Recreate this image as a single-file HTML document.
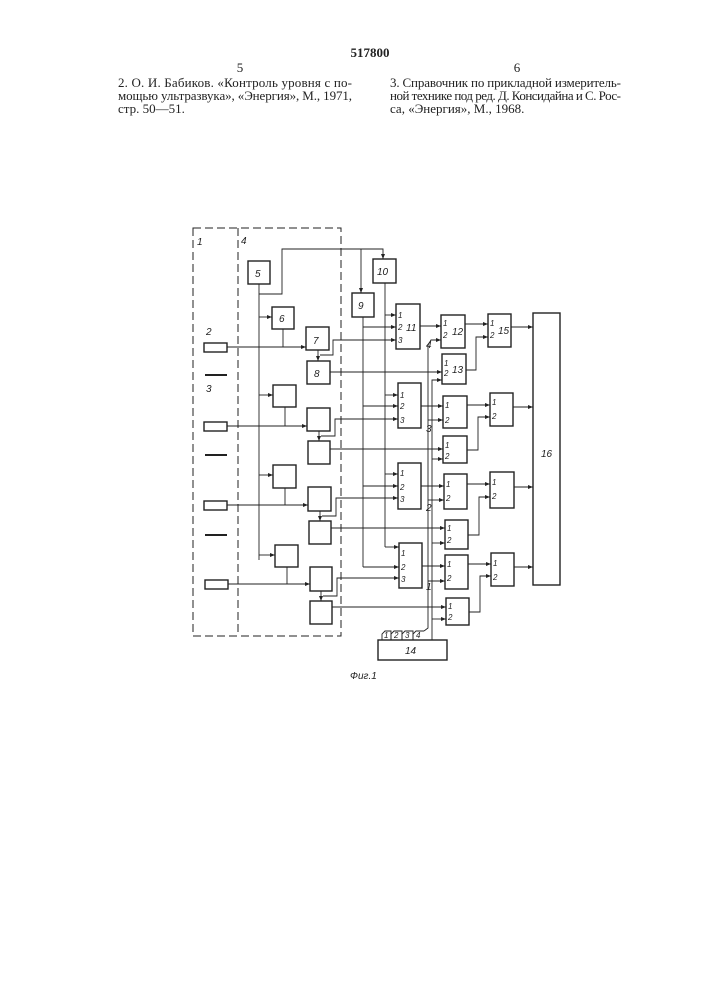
<!DOCTYPE html>
<html><head><meta charset="utf-8"><style>
html,body{margin:0;padding:0;background:#fff;}
svg{display:block}
.t{font-family:"Liberation Serif",serif;font-size:13px;fill:#222}
.d{font-family:"Liberation Sans",sans-serif;font-size:10px;font-style:italic;fill:#222}
.s{font-family:"Liberation Sans",sans-serif;font-size:8px;font-style:italic;fill:#222}
</style></head><body>
<svg width="707" height="1000" viewBox="0 0 707 1000" xmlns="http://www.w3.org/2000/svg">
<defs><marker id="a" markerWidth="6" markerHeight="6" refX="5" refY="3" orient="auto" markerUnits="userSpaceOnUse"><path d="M0,1 L5,3 L0,5 Z" fill="#222"/></marker></defs>
<text class="t" x="370" y="57" text-anchor="middle" font-weight="bold">517800</text>
<text class="t" x="240" y="72" text-anchor="middle">5</text>
<text class="t" x="517" y="72" text-anchor="middle">6</text>
<text class="t" x="118" y="87" textLength="234">2. О. И. Бабиков. «Контроль уровня с по-</text>
<text class="t" x="118" y="100" textLength="234">мощью ультразвука», «Энергия», М., 1971,</text>
<text class="t" x="118" y="113">стр. 50—51.</text>
<text class="t" x="390" y="87" textLength="231">3. Справочник по прикладной измеритель-</text>
<text class="t" x="390" y="100" textLength="231">ной технике под ред. Д. Консидайна и С. Рос-</text>
<text class="t" x="390" y="113">са, «Энергия», М., 1968.</text>

<g fill="none" stroke="#222" stroke-width="1">
<path d="M193,228 H341 V636 H193 Z" stroke-dasharray="8,4"/>
<path d="M238,228 V636" stroke-dasharray="8,4"/>
</g>
<text class="d" x="197" y="245">1</text>
<text class="d" x="241" y="244">4</text>
<text class="d" x="206" y="335">2</text>
<text class="d" x="206" y="392">3</text>

<g fill="none" stroke="#222" stroke-width="1.4">
<rect x="204" y="343" width="23" height="9"/>
<rect x="204" y="422" width="23" height="9"/>
<rect x="204" y="501" width="23" height="9"/>
<rect x="205" y="580" width="23" height="9"/>
<path d="M205,375 H227 M205,455 H227 M205,535 H227" stroke-width="2"/>
<rect x="248" y="261" width="22" height="23"/>
<rect x="352" y="293" width="22" height="24"/>
<rect x="373" y="259" width="23" height="24"/>
<rect x="272" y="307" width="22" height="22"/>
<rect x="306" y="327" width="23" height="23"/>
<rect x="307" y="361" width="23" height="23"/>
<rect x="396" y="304" width="24" height="45"/>
<rect x="441" y="315" width="24" height="33"/>
<rect x="488" y="314" width="23" height="33"/>
<rect x="442" y="354" width="24" height="30"/>

<rect x="273" y="385" width="23" height="22"/>
<rect x="307" y="408" width="23" height="23"/>
<rect x="308" y="441" width="22" height="23"/>
<rect x="398" y="383" width="23" height="45"/>
<rect x="443" y="396" width="24" height="32"/>
<rect x="490" y="393" width="23" height="33"/>
<rect x="443" y="436" width="24" height="27"/>

<rect x="273" y="465" width="23" height="23"/>
<rect x="308" y="487" width="23" height="24"/>
<rect x="309" y="521" width="22" height="23"/>
<rect x="398" y="463" width="23" height="46"/>
<rect x="444" y="474" width="23" height="35"/>
<rect x="490" y="472" width="24" height="36"/>
<rect x="445" y="520" width="23" height="29"/>

<rect x="275" y="545" width="23" height="22"/>
<rect x="310" y="567" width="22" height="24"/>
<rect x="310" y="601" width="22" height="23"/>
<rect x="399" y="543" width="23" height="45"/>
<rect x="445" y="555" width="23" height="34"/>
<rect x="491" y="553" width="23" height="33"/>
<rect x="446" y="598" width="23" height="27"/>

<rect x="533" y="313" width="27" height="272"/>
<rect x="378" y="640" width="69" height="20"/>
</g>

<g fill="none" stroke="#222" stroke-width="0.9">
<path d="M259,284 V560"/>
<path d="M259,294 H282 V249 H383 V259" marker-end="url(#a)"/>
<path d="M361,249 V293" marker-end="url(#a)"/>
<path d="M259,317 H272" marker-end="url(#a)"/>
<path d="M259,395 H273" marker-end="url(#a)"/>
<path d="M259,475 H273" marker-end="url(#a)"/>
<path d="M259,555 H275" marker-end="url(#a)"/>
<path d="M227,347 H306" marker-end="url(#a)"/>
<path d="M227,426 H307" marker-end="url(#a)"/>
<path d="M227,505 H308" marker-end="url(#a)"/>
<path d="M228,584 H310" marker-end="url(#a)"/>
<path d="M283,329 V347 M285,407 V426 M285,488 V505 M287,567 V584"/>
<path d="M318,350 V361" marker-end="url(#a)"/>
<path d="M319,431 V441" marker-end="url(#a)"/>
<path d="M320,511 V521" marker-end="url(#a)"/>
<path d="M321,591 V601" marker-end="url(#a)"/>
<path d="M320,355 H333 V340 H396" marker-end="url(#a)"/>
<path d="M321,436 H335 V419 H398" marker-end="url(#a)"/>
<path d="M322,516 H336 V498 H398" marker-end="url(#a)"/>
<path d="M323,596 H337 V578 H399" marker-end="url(#a)"/>
<path d="M330,372 H442" marker-end="url(#a)"/>
<path d="M330,449 H443" marker-end="url(#a)"/>
<path d="M331,528 H445" marker-end="url(#a)"/>
<path d="M332,607 H446" marker-end="url(#a)"/>
<path d="M363,317 V567"/>
<path d="M363,327 H396" marker-end="url(#a)"/>
<path d="M363,406 H398" marker-end="url(#a)"/>
<path d="M363,486 H398" marker-end="url(#a)"/>
<path d="M363,567 H399" marker-end="url(#a)"/>
<path d="M385,283 V547"/>
<path d="M385,315 H396" marker-end="url(#a)"/>
<path d="M385,395 H398" marker-end="url(#a)"/>
<path d="M385,474 H398" marker-end="url(#a)"/>
<path d="M385,547 H399" marker-end="url(#a)"/>
<path d="M420,326 H441" marker-end="url(#a)"/>
<path d="M421,406 H443" marker-end="url(#a)"/>
<path d="M421,486 H444" marker-end="url(#a)"/>
<path d="M422,566 H445" marker-end="url(#a)"/>
<path d="M465,324 H488" marker-end="url(#a)"/>
<path d="M467,405 H490" marker-end="url(#a)"/>
<path d="M467,484 H490" marker-end="url(#a)"/>
<path d="M468,564 H491" marker-end="url(#a)"/>
<path d="M466,370 H476 V337 H488" marker-end="url(#a)"/>
<path d="M467,450 H478 V417 H490" marker-end="url(#a)"/>
<path d="M468,535 H479 V497 H490" marker-end="url(#a)"/>
<path d="M469,612 H480 V576 H491" marker-end="url(#a)"/>
<path d="M511,327 H533" marker-end="url(#a)"/>
<path d="M513,407 H533" marker-end="url(#a)"/>
<path d="M514,487 H533" marker-end="url(#a)"/>
<path d="M514,567 H533" marker-end="url(#a)"/>
<path d="M382,640 V634 L385,631 H391 V640"/>
<path d="M391,640 V634 L394,631 H402 V640"/>
<path d="M402,640 V634 L405,631 H413 V640"/>
<path d="M413,640 V634 L416,631 H424"/>
<path d="M424,631 L428,628 V345 L431,340 H441" marker-end="url(#a)"/>
<path d="M432,640 V380 H442" marker-end="url(#a)"/>
<path d="M428,420 H443" marker-end="url(#a)"/>
<path d="M432,459 H443" marker-end="url(#a)"/>
<path d="M428,500 H444" marker-end="url(#a)"/>
<path d="M432,543 H445" marker-end="url(#a)"/>
<path d="M428,581 H445" marker-end="url(#a)"/>
<path d="M432,619 H446" marker-end="url(#a)"/>
</g>

<g class="d">
<text x="255" y="277">5</text><text x="279" y="322">6</text><text x="313" y="344">7</text><text x="314" y="377">8</text>
<text x="358" y="309">9</text><text x="377" y="275">10</text>
<text x="406" y="331">11</text><text x="452" y="335">12</text><text x="498" y="334">15</text><text x="452" y="373">13</text>
<text x="541" y="457">16</text><text x="405" y="654">14</text>
<text x="426" y="348">4</text><text x="426" y="432">3</text><text x="426" y="511">2</text><text x="426" y="590">1</text>
</g>
<g class="s">
<text x="398" y="318">1</text><text x="398" y="330">2</text><text x="398" y="343">3</text>
<text x="443" y="326">1</text><text x="443" y="338">2</text><text x="490" y="326">1</text><text x="490" y="338">2</text>
<text x="444" y="366">1</text><text x="444" y="376">2</text>
<text x="400" y="398">1</text><text x="400" y="409">2</text><text x="400" y="423">3</text>
<text x="445" y="408">1</text><text x="445" y="423">2</text><text x="492" y="405">1</text><text x="492" y="419">2</text>
<text x="445" y="448">1</text><text x="445" y="459">2</text>
<text x="400" y="476">1</text><text x="400" y="490">2</text><text x="400" y="502">3</text>
<text x="446" y="487">1</text><text x="446" y="501">2</text><text x="492" y="485">1</text><text x="492" y="499">2</text>
<text x="447" y="531">1</text><text x="447" y="543">2</text>
<text x="401" y="556">1</text><text x="401" y="570">2</text><text x="401" y="582">3</text>
<text x="447" y="567">1</text><text x="447" y="581">2</text><text x="493" y="566">1</text><text x="493" y="580">2</text>
<text x="448" y="609">1</text><text x="448" y="620">2</text>
<text x="384" y="638">1</text><text x="394" y="638">2</text><text x="405" y="638">3</text><text x="416" y="638">4</text>
</g>
<text class="d" x="350" y="679">Фиг.1</text>
</svg>
</body></html>
